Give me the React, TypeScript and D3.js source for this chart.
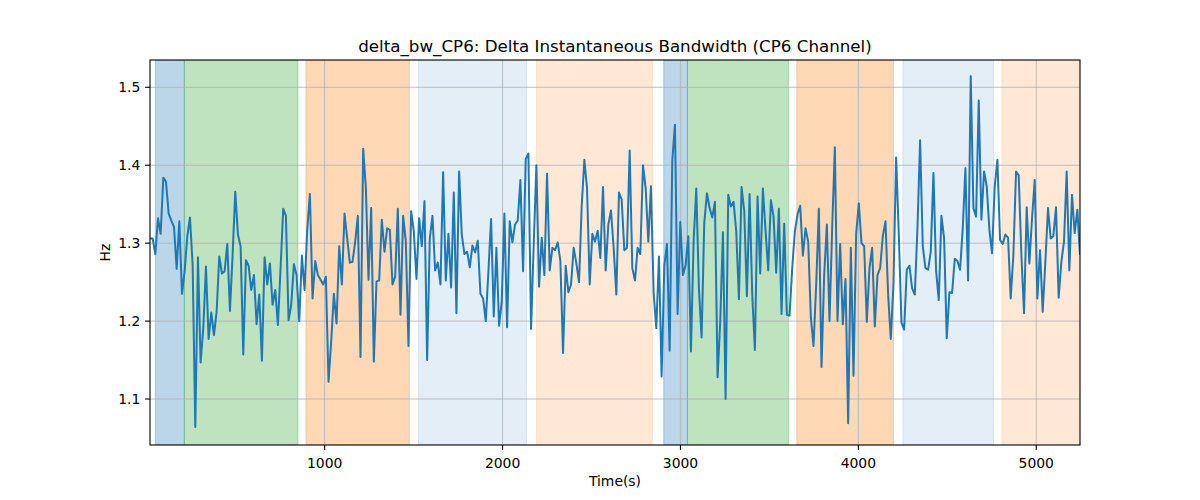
import * as d3 from "d3";

// sampled every ~15 s starting at t0
const t0 = 18;
const t1 = 5246;

const bandwidth = [
  1.306, 1.306, 1.286, 1.332, 1.312, 1.384, 1.379, 1.338, 1.329, 1.321,
  1.267, 1.328, 1.235, 1.264, 1.309, 1.333, 1.272, 1.064, 1.282, 1.147,
  1.191, 1.27, 1.177, 1.211, 1.182, 1.212, 1.283, 1.261, 1.264, 1.299,
  1.213, 1.285, 1.366, 1.311, 1.296, 1.157, 1.278, 1.271, 1.24, 1.259,
  1.196, 1.234, 1.149, 1.282, 1.247, 1.274, 1.221, 1.24, 1.195, 1.268,
  1.344, 1.335, 1.201, 1.221, 1.273, 1.259, 1.2, 1.284, 1.24, 1.317,
  1.363, 1.229, 1.277, 1.259, 1.253, 1.247, 1.257, 1.122, 1.174, 1.235,
  1.197, 1.296, 1.247, 1.338, 1.306, 1.275, 1.276, 1.302, 1.335, 1.154,
  1.421, 1.371, 1.253, 1.345, 1.148, 1.251, 1.252, 1.33, 1.289, 1.319, 1.317,
  // 1377 s ..
  1.247, 1.257, 1.344, 1.208, 1.335, 1.302, 1.168, 1.341, 1.315, 1.254,
  1.332, 1.296, 1.354, 1.15, 1.306, 1.335, 1.265, 1.275, 1.247, 1.391,
  1.252, 1.312, 1.243, 1.365, 1.21, 1.392, 1.311, 1.286, 1.289, 1.269,
  1.297, 1.288, 1.303, 1.235, 1.229, 1.2, 1.264, 1.331, 1.206, 1.294,
  1.194, 1.225, 1.338, 1.192, 1.328, 1.301, 1.324, 1.329, 1.381, 1.264,
  1.408, 1.415, 1.19, 1.298, 1.4, 1.244, 1.307, 1.259, 1.389, 1.265,
  1.294, 1.291, 1.301, 1.277, 1.159, 1.271, 1.237, 1.247, 1.294, 1.274,
  1.25, 1.347, 1.407, 1.371, 1.247, 1.312, 1.302, 1.316, 1.281, 1.372,
  1.265, 1.324, 1.342, 1.294, 1.234, 1.365, 1.356, 1.291, 1.294, 1.419,
  // 2726 s ..
  1.268, 1.252, 1.294, 1.286, 1.4, 1.371, 1.302, 1.373, 1.236, 1.191,
  1.283, 1.129, 1.271, 1.299, 1.162, 1.406, 1.452, 1.209, 1.327, 1.259,
  1.272, 1.309, 1.161, 1.302, 1.37, 1.241, 1.179, 1.326, 1.364, 1.345,
  1.333, 1.353, 1.128, 1.2, 1.314, 1.1, 1.362, 1.347, 1.353, 1.315,
  1.228, 1.372, 1.341, 1.232, 1.363, 1.234, 1.163, 1.36, 1.261, 1.37,
  1.316, 1.265, 1.355, 1.334, 1.262, 1.344, 1.209, 1.325, 1.208, 1.207,
  1.268, 1.315, 1.337, 1.348, 1.284, 1.319, 1.302, 1.204, 1.168, 1.247,
  1.344, 1.141, 1.259, 1.324, 1.2, 1.319, 1.423, 1.2, 1.299, 1.196,
  1.254, 1.069, 1.294, 1.13, 1.312, 1.351, 1.3, 1.296, 1.199, 1.268,
  // 4074 s ..
  1.294, 1.193, 1.259, 1.268, 1.309, 1.328, 1.234, 1.177, 1.247, 1.41,
  1.311, 1.198, 1.189, 1.266, 1.271, 1.242, 1.234, 1.319, 1.432, 1.296,
  1.268, 1.266, 1.289, 1.39, 1.264, 1.227, 1.335, 1.306, 1.178, 1.237,
  1.236, 1.28, 1.277, 1.266, 1.319, 1.396, 1.252, 1.514, 1.345, 1.334,
  1.483, 1.33, 1.392, 1.373, 1.317, 1.287, 1.373, 1.407, 1.304, 1.299,
  1.311, 1.307, 1.229, 1.285, 1.392, 1.387, 1.285, 1.21, 1.346, 1.274,
  1.332, 1.381, 1.229, 1.291, 1.212, 1.276, 1.345, 1.306, 1.309, 1.346,
  1.23, 1.276, 1.302, 1.392, 1.265, 1.362, 1.313, 1.343, 1.285,
];

const spanStarts = [48, 211, 895, 1527, 2191, 2906, 3039, 3654, 4250, 4807];
const spanEnds = [211, 850, 1476, 2135, 2842, 3039, 3607, 4198, 4760, 5246];
const spanColors = [
  "#1f77b4", "#2ca02c", "#ff7f0e", "#1f77b4", "#ff7f0e",
  "#1f77b4", "#2ca02c", "#ff7f0e", "#1f77b4", "#ff7f0e",
];
const spanAlphas = [0.3, 0.3, 0.3, 0.12, 0.17, 0.3, 0.3, 0.3, 0.12, 0.17];

const xTicks = [1000, 2000, 3000, 4000, 5000];
const yTicks = [1.1, 1.2, 1.3, 1.4, 1.5];

const W = 1200;
const H = 500;
const margin = { top: 60, right: 120, bottom: 55, left: 150 };
const font = "DejaVu Sans, sans-serif";

export default function App() {
  const iw = W - margin.left - margin.right;
  const ih = H - margin.top - margin.bottom;

  const dt = (t1 - t0) / (bandwidth.length - 1);
  const data = bandwidth.map((v, i) => ({ t: t0 + i * dt, v }));

  const x = d3.scaleLinear().domain([t0, t1]).range([0, iw]);
  const y = d3.scaleLinear().domain([1.041, 1.535]).range([ih, 0]);

  const line = d3
    .line<{ t: number; v: number }>()
    .x((d) => x(d.t))
    .y((d) => y(d.v));

  return (
    <>
      <style>{`body{margin:0}`}</style>
      <svg width={W} height={H} style={{ display: "block", background: "#fff" }}>
        <defs>
          <clipPath id="plot">
            <rect width={iw} height={ih} />
          </clipPath>
        </defs>
        <g transform={`translate(${margin.left},${margin.top})`}>
          <g clipPath="url(#plot)">
            {spanStarts.map((s, i) => (
              <rect
                key={i}
                x={x(s)}
                y={0}
                width={x(spanEnds[i]) - x(s)}
                height={ih}
                fill={spanColors[i]}
                fillOpacity={spanAlphas[i]}
                stroke={spanColors[i]}
                strokeOpacity={spanAlphas[i]}
                strokeWidth={1}
              />
            ))}
          </g>

          {/* grid */}
          {xTicks.map((t) => (
            <line key={t} x1={x(t)} x2={x(t)} y1={0} y2={ih} stroke="#b0b0b0" strokeWidth={0.8} />
          ))}
          {yTicks.map((t) => (
            <line key={t} x1={0} x2={iw} y1={y(t)} y2={y(t)} stroke="#b0b0b0" strokeWidth={0.8} />
          ))}

          <path
            d={line(data) ?? ""}
            fill="none"
            stroke="#1f77b4"
            strokeWidth={2}
            strokeLinejoin="round"
            clipPath="url(#plot)"
          />

          <rect width={iw} height={ih} fill="none" stroke="#000" strokeWidth={1.1} />

          {/* x axis */}
          {xTicks.map((t) => (
            <g key={t} transform={`translate(${x(t)},${ih})`}>
              <line y2={4.9} stroke="#000" strokeWidth={1.1} />
              <text y={23} textAnchor="middle" fontFamily={font} fontSize={13.9} fill="#000">
                {t}
              </text>
            </g>
          ))}
          {/* y axis */}
          {yTicks.map((t) => (
            <g key={t} transform={`translate(0,${y(t)})`}>
              <line x2={-4.9} stroke="#000" strokeWidth={1.1} />
              <text x={-9.7} dy="0.35em" textAnchor="end" fontFamily={font} fontSize={13.9} fill="#000">
                {t.toFixed(1)}
              </text>
            </g>
          ))}

          <text x={iw / 2} y={ih + 41} textAnchor="middle" fontFamily={font} fontSize={13.9} fill="#000">
            Time(s)
          </text>
          <text
            transform={`translate(-40,${ih / 2}) rotate(-90)`}
            textAnchor="middle"
            fontFamily={font}
            fontSize={13.9}
            fill="#000"
          >
            Hz
          </text>
          <text x={iw / 2} y={-8.5} textAnchor="middle" fontFamily={font} fontSize={16.7} fill="#000">
            delta_bw_CP6: Delta Instantaneous Bandwidth (CP6 Channel)
          </text>
        </g>
      </svg>
    </>
  );
}
